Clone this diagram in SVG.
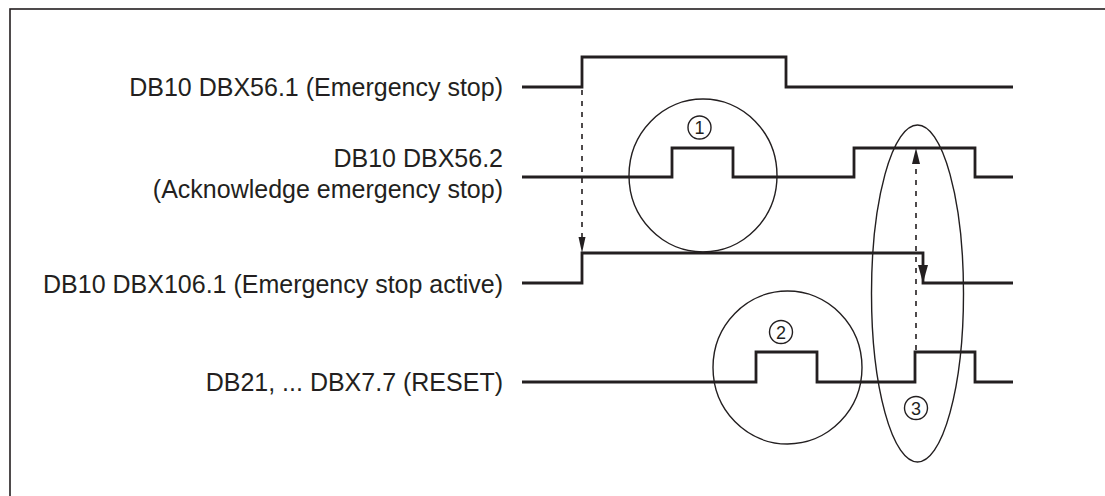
<svg xmlns="http://www.w3.org/2000/svg" width="1105" height="496" viewBox="0 0 1105 496">
<style>
.lbl{font-family:"Liberation Sans",Arial,sans-serif;font-size:25px;fill:#231f20;text-anchor:end}
.num{font-family:"Liberation Sans",Arial,sans-serif;font-size:18px;fill:#231f20;text-anchor:middle}
.sig{fill:none;stroke:#231f20;stroke-width:2.8;stroke-linejoin:miter;stroke-linecap:butt}
.ring{fill:none;stroke:#231f20;stroke-width:1.4}
.dash{fill:none;stroke:#231f20;stroke-width:1.6;stroke-dasharray:5 6}
.head{fill:#231f20;stroke:none}
</style>
<rect x="10" y="9" width="1110" height="500" fill="#ffffff" stroke="#231f20" stroke-width="1.6"/>
<g id="signal-estop">
<text class="lbl" x="503" y="96">DB10 DBX56.1 (Emergency stop)</text>
<path class="sig" d="M522,87 H582 V57 H786 V87 H1013"/>
</g>
<g id="signal-ack">
<text class="lbl" x="503" y="167">DB10 DBX56.2</text>
<text class="lbl" x="503" y="198">(Acknowledge emergency stop)</text>
<path class="sig" d="M522,177 H672 V148 H733 V177 H854 V148 H975 V177 H1013"/>
</g>
<g id="signal-active">
<text class="lbl" x="503" y="293">DB10 DBX106.1 (Emergency stop active)</text>
<path class="sig" d="M522,283 H582 V253 H923 V283 H1013"/>
</g>
<g id="signal-reset">
<text class="lbl" x="503" y="391">DB21, ... DBX7.7 (RESET)</text>
<path class="sig" d="M522,382 H756 V352 H817 V382 H915 V352 H975 V382 H1013"/>
</g>
<g id="marker-1">
<ellipse class="ring" cx="703" cy="175.5" rx="74" ry="76.5"/>
<circle class="ring" cx="699.5" cy="127.5" r="11.5"/>
<text class="num" x="699.5" y="134">1</text>
</g>
<g id="marker-2">
<ellipse class="ring" cx="787.5" cy="367.5" rx="74.5" ry="76.5"/>
<circle class="ring" cx="781" cy="332" r="11.5"/>
<text class="num" x="781" y="338.5">2</text>
</g>
<g id="marker-3">
<ellipse class="ring" cx="917.5" cy="293.5" rx="46" ry="168.5"/>
<circle class="ring" cx="916" cy="408" r="11.5"/>
<text class="num" x="916" y="414.5">3</text>
</g>
<g id="connectors">
<path class="dash" d="M582,90 V238"/>
<path class="head" d="M578.5,237 L585.5,237 L582,253 Z"/>
<path class="dash" d="M916,350 V162"/>
<path class="head" d="M912,164 L920,164 L916,148 Z"/>
<path class="head" d="M918,265 L928,265 L923,283 Z"/>
</g>
</svg>
